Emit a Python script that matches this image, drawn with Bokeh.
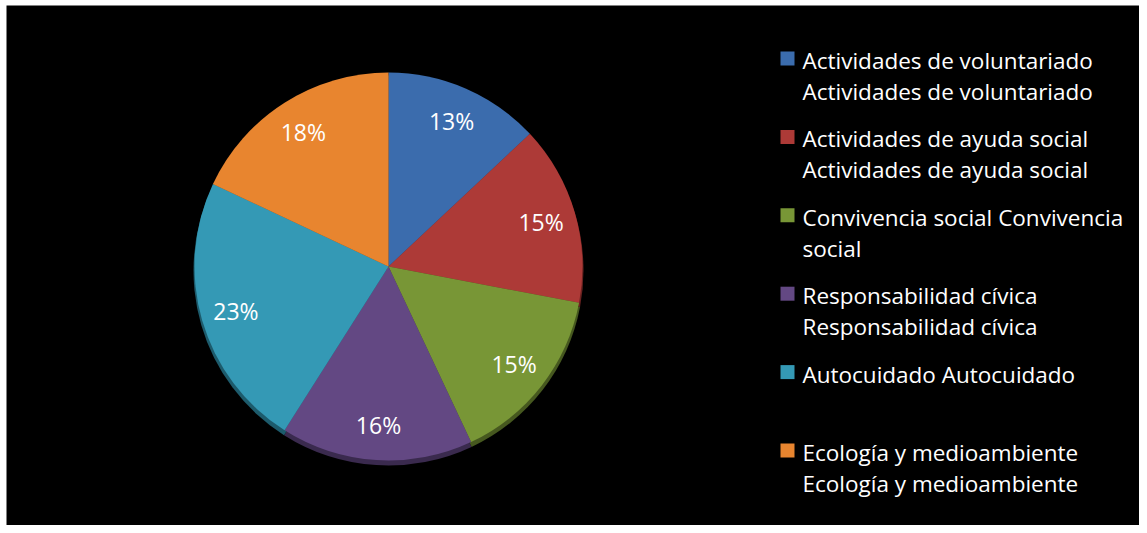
import numpy as np
from bokeh.plotting import figure
from bokeh.models import ColumnDataSource, Range1d
from bokeh.core.properties import value
from bokeh.embed import file_html
from bokeh.resources import INLINE

# ---- data ----
categories = [
    "Actividades de voluntariado Actividades de voluntariado",
    "Actividades de ayuda social Actividades de ayuda social",
    "Convivencia social Convivencia social",
    "Responsabilidad cívica Responsabilidad cívica",
    "Autocuidado Autocuidado",
    "Ecología y medioambiente Ecología y medioambiente",
]
legend_lines = [
    ["Actividades de voluntariado", "Actividades de voluntariado"],
    ["Actividades de ayuda social", "Actividades de ayuda social"],
    ["Convivencia social Convivencia", "social"],
    ["Responsabilidad cívica", "Responsabilidad cívica"],
    ["Autocuidado Autocuidado"],
    ["Ecología y medioambiente", "Ecología y medioambiente"],
]
percent = [13, 15, 15, 16, 23, 18]
colors = ["#3b6cad", "#ad3a37", "#789636", "#634883", "#3499b5", "#e8852f"]
shadow_colors = ["#22406a", "#6a2220", "#46581f", "#3a2a4e", "#1d5b6c", "#8a4e1b"]

W, H = 1139, 525
p = figure(width=W, height=H, output_backend="svg", toolbar_location=None,
           x_range=Range1d(6, W), y_range=Range1d(0, H - 5),
           background_fill_color="black", border_fill_color="white",
           min_border=0, min_border_left=6, min_border_top=5,
           min_border_right=0, min_border_bottom=0, outline_line_color=None)
p.axis.visible = False
p.grid.visible = False

cx, cy, R = 388, 259, 195
vals = np.array(percent, dtype=float)
frac = vals / vals.sum()
cum_end = np.cumsum(frac)
cum_start = cum_end - frac
start = np.pi / 2 - 2 * np.pi * cum_end
end = np.pi / 2 - 2 * np.pi * cum_start
mid = (start + end) / 2

src = ColumnDataSource(dict(start=start, end=end, color=colors, shadow=shadow_colors,
                            x=[cx] * 6, y=[cy] * 6, ys=[cy - 4] * 6))
# bevel/shadow underneath
p.wedge(x="x", y="ys", radius=R, radius_units="screen", start_angle="start",
        end_angle="end", fill_color="shadow", line_color=None, source=src)
p.wedge(x="x", y="y", radius=R - 1, radius_units="screen", start_angle="start",
        end_angle="end", fill_color="color", line_color=None, source=src)

FONT = value("Open Sans")

# percentage labels
lr = 0.815 * R
lab = ColumnDataSource(dict(x=cx + lr * np.cos(mid), y=cy + lr * np.sin(mid),
                            t=[f"{v}%" for v in percent]))
p.text(x="x", y="y", text="t", source=lab, text_color="white",
       text_font=FONT, text_font_size="23px",
       text_align="center", text_baseline="middle")

# legend
lx, ly0, step, lh = 787, 525 - 60, 78.4, 31
sq = ColumnDataSource(dict(x=[lx] * 6, y=[ly0 + 2 - step * i for i in range(6)], c=colors))
p.scatter(x="x", y="y", marker="square", size=14, fill_color="c", line_color=None, source=sq)
tx, ty, tt = [], [], []
for i, lines in enumerate(legend_lines):
    for j, s in enumerate(lines):
        tx.append(lx + 15)
        ty.append(ly0 - step * i - lh * j)
        tt.append(s)
p.text(x=tx, y=ty, text=tt, text_color="white", text_font=FONT,
       text_font_size="22.5px", text_align="left", text_baseline="middle")

open("out.html", "w").write(file_html(p, INLINE))
